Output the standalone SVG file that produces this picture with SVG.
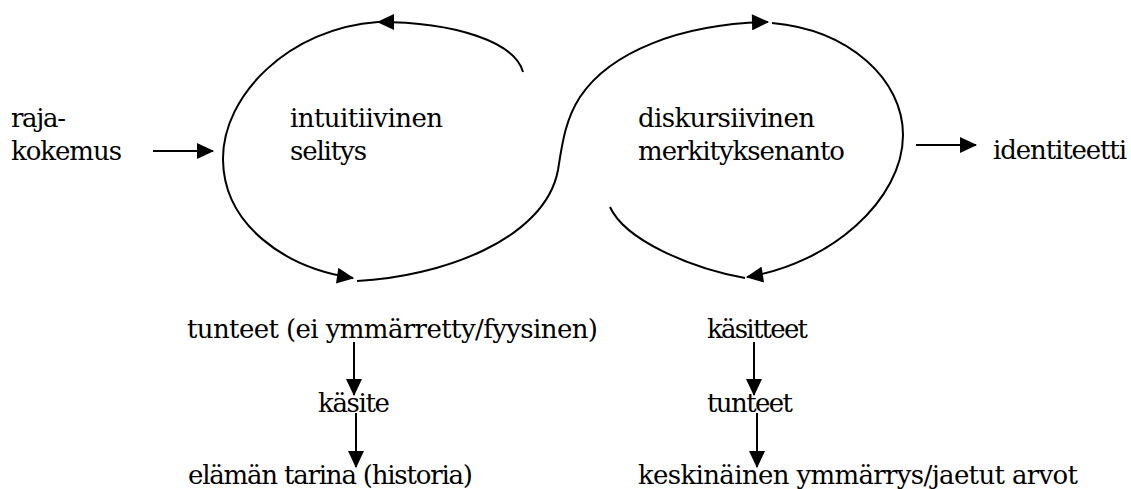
<svg xmlns="http://www.w3.org/2000/svg" width="1131" height="489" viewBox="0 0 1131 489">
  <style>
    .lbl { font-family: "DejaVu Serif", "Liberation Serif", serif; font-size: 26px; fill: #000; }
    .edge { fill: none; stroke: #000; stroke-width: 2; }
  </style>
  <defs>
    <marker id="head" markerUnits="userSpaceOnUse" markerWidth="18" markerHeight="16" viewBox="0 0 16 15" refX="15" refY="7.5" orient="auto">
      <path d="M0,0 L16,7.5 L0,15 Z" fill="#000"/>
    </marker>
  </defs>
  <rect width="1131" height="489" fill="#fff"/>

  <!-- cycles and flows -->
  <g id="connectors">
    <!-- left cycle: intuitive explanation -->
    <path class="edge" d="M523,72 C515,42 455,22 378,22" marker-end="url(#head)"/>
    <path class="edge" d="M378,22 C290,28 222,95 223,160 C224,225 285,268 353,278" marker-end="url(#head)"/>
    <!-- S-shaped crossing into the right cycle -->
    <path class="edge" d="M357,281 C440,277 545,240 558,170 C562,145 565,120 580,97 C610,52 680,24 768,22" marker-end="url(#head)"/>
    <!-- right cycle: discursive meaning-making -->
    <path class="edge" d="M772,23 C850,30 903,80 903,135 C903,200 830,264 747,277" marker-end="url(#head)"/>
    <path class="edge" d="M745,278 C690,268 625,240 610,207"/>
    <!-- straight arrows -->
    <path class="edge" d="M153,151 L213,151" marker-end="url(#head)"/>
    <path class="edge" d="M916,145 L976,145" marker-end="url(#head)"/>
    <path class="edge" d="M354,342 L354,395" marker-end="url(#head)"/>
    <path class="edge" d="M356,413 L356,467" marker-end="url(#head)"/>
    <path class="edge" d="M754,342 L754,395" marker-end="url(#head)"/>
    <path class="edge" d="M757,413 L757,467" marker-end="url(#head)"/>
  </g>

  <g id="rajakokemus">
    <text class="lbl" x="11" y="127" textLength="55">raja-</text>
    <text class="lbl" x="11" y="160" textLength="111">kokemus</text>
  </g>
  <g id="intuitiivinen">
    <text class="lbl" x="290" y="127" textLength="153">intuitiivinen</text>
    <text class="lbl" x="290" y="160" textLength="77">selitys</text>
  </g>
  <g id="diskursiivinen">
    <text class="lbl" x="638" y="127" textLength="177">diskursiivinen</text>
    <text class="lbl" x="638" y="160" textLength="207">merkityksenanto</text>
  </g>
  <g id="identiteetti">
    <text class="lbl" x="993" y="159" textLength="134">identiteetti</text>
  </g>
  <g id="tunteet-left">
    <text class="lbl" x="187" y="338" textLength="411">tunteet (ei ymmärretty/fyysinen)</text>
  </g>
  <g id="kasite">
    <text class="lbl" x="318" y="412" textLength="72">käsite</text>
  </g>
  <g id="elaman-tarina">
    <text class="lbl" x="188" y="484" textLength="285">elämän tarina (historia)</text>
  </g>
  <g id="kasitteet">
    <text class="lbl" x="707" y="338" textLength="101">käsitteet</text>
  </g>
  <g id="tunteet-right">
    <text class="lbl" x="707" y="412" textLength="86">tunteet</text>
  </g>
  <g id="keskinainen">
    <text class="lbl" x="638" y="484" textLength="440">keskinäinen ymmärrys/jaetut arvot</text>
  </g>
</svg>
